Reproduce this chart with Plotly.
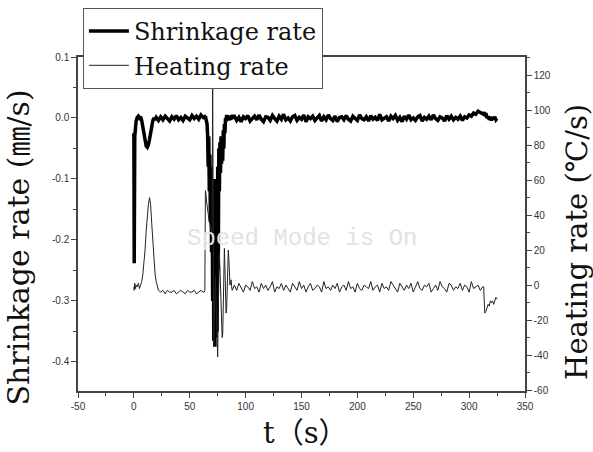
import plotly.graph_objects as go

# ---------------- data ----------------
# time stamps, s
t_start = [0, 0.3, 0.8, 1.5, 2, 3, 4, 5, 6, 7, 8, 9, 10, 11, 12, 13, 14, 15, 16, 17, 18, 19, 20]
t_hold = list(range(22, 63, 2))
t_event = [63, 63.5, 64, 64.5, 65, 65.5, 66, 66.5, 67, 67.5, 68, 68.5, 69, 69.5, 70, 70.5,
           71, 71.5, 72, 72.5, 73, 73.5, 74, 74.5, 75, 75.5, 76, 76.5, 77, 77.5, 78, 78.5,
           79, 79.5, 80, 80.5, 81, 81.5, 82, 82.5, 83, 83.5, 84, 84.5, 85, 85.5, 86, 86.5,
           87, 87.5, 88]
t_run = list(range(90, 313, 2))
t_end = [313, 313.5, 314, 315, 316, 317, 318, 319, 320, 321, 322, 323, 324, 325]

# shrinkage rate, mm/s
shrink_start = [-0.025, -0.238, -0.03, -0.012, -0.005, 0.001, 0.003, 0.0, 0.002, -0.004,
                -0.014, -0.028, -0.04, -0.046, -0.048, -0.044, -0.035, -0.022, -0.011,
                -0.004, 0.0, -0.003, 0.001]
shrink_hold = [-0.004, 0.002, -0.003, 0.003, -0.001, -0.005, 0.002, -0.002, 0.004, -0.003,
               0.001, -0.004, 0.003, 0.0, -0.003, 0.004, -0.001, 0.003, -0.002, 0.005, 0.001]
shrink_event = [0.002, -0.002, 0.003, -0.001, -0.004, -0.01, -0.03, -0.08, -0.03, -0.12,
                -0.06, -0.17, -0.08, -0.22, -0.12, -0.3, -0.1, -0.365, -0.15, -0.375,
                -0.12, -0.36, -0.1, -0.35, -0.08, -0.25, -0.05, -0.12, -0.04, -0.09,
                -0.03, -0.075, -0.04, -0.07, -0.02, -0.05, -0.01, -0.025, 0.0, -0.006,
                0.005, -0.003, 0.004, -0.002, 0.003, -0.004, 0.002, -0.003, 0.004, -0.002,
                0.003]
shrink_run = [0.003, -0.004, 0.001, -0.006, 0.002, -0.001, 0.004, -0.005, 0.0, 0.003,
              -0.003, 0.005, -0.002, -0.006, 0.002, 0.001, -0.004, 0.004, -0.001, -0.005,
              0.003, -0.002, 0.006, -0.003, 0.0, -0.005, 0.002, 0.004, -0.004, 0.001,
              -0.002, 0.005, -0.006, 0.002, -0.001, 0.003, -0.004, 0.0, 0.004, -0.005,
              0.002, -0.003, 0.005, -0.001, -0.004, 0.003, -0.006, 0.001, 0.002, -0.003,
              0.004, -0.002, -0.005, 0.003, 0.0, -0.004, 0.005, -0.001, -0.003, 0.002,
              -0.005, 0.004, -0.002, 0.001, -0.004, 0.006, -0.003, 0.0, 0.002, -0.005,
              0.003, -0.001, 0.004, -0.004, 0.001, -0.006, 0.003, -0.002, 0.005, -0.003,
              0.0, -0.004, 0.002, 0.004, -0.005, 0.001, -0.002, 0.003, -0.003, 0.005,
              -0.001, -0.004, 0.002, 0.0, -0.005, 0.004, -0.002, 0.003, -0.003, 0.001,
              -0.002, 0.003, -0.004, 0.002, 0.0, 0.005, 0.003, 0.008, 0.006, 0.011,
              0.009, 0.006]
shrink_end = [0.006, 0.01, 0.004, 0.008, 0.0, 0.003, -0.003, 0.002, -0.004, 0.001, -0.002,
              0.002, -0.003, -0.001]

# heating rate, degC/s
heat_start = [-1, -3, 1, -2, 0, -1, 1, -2, 0, 2, 6, 12, 20, 31, 40, 46, 50, 46, 35, 24, 13, 6, 2]
heat_hold = [-3, -4, -3, -5, -3, -4, -4, -3, -5, -4, -3, -4, -5, -3, -4, -4, -3, -5, -4, -3, -4]
heat_event = [-4, -3, 54, 52, 48, 45, 42, 40, 38, 36, 35, 33, 32, 30, 30, 114,
              40, -35, -20, -5, 5, -10, -25, -38, -41, -15, 5, 18, 10, -5, -18, -25,
              -30, -28, -5, 15, 21, 10, -5, -16, -14, 0, 12, 20, 15, 5, 0, 2,
              3, -1, -3]
heat_run = [0, -3, 1, -2, -4, 0, -1, -3, 2, -2, -1, -4, 1, -2, 0, -3, -1, 2, -4, -1,
            -2, 1, -3, 0, -2, -4, 1, -1, -3, 2, -2, 0, -4, -1, 1, -3, -2, 0, -1, -4,
            2, -2, -1, -3, 0, -2, 1, -4, -1, 0, -3, 2, -2, -1, -4, 1, -2, -3, 0, -1,
            -2, 2, -3, -1, 0, -4, 1, -2, -1, -3, 2, 0, -2, -4, 1, -1, -3, 0, -2, 1,
            -4, -1, 2, -2, -3, 0, -1, 1, -4, -2, 0, -3, 2, -1, -2, -4, 1, 0, -3, -1,
            -2, 1, -3, 0, -1, -4, 2, -2, -1, 0, -3, -1]
heat_end = [-1, -12, -16, -15, -13, -11, -12, -9, -10, -9, -11, -8, -7, -8]

time = t_start + t_hold + t_event + t_run + t_end
shrinkage = shrink_start + shrink_hold + shrink_event + shrink_run + shrink_end
heating = heat_start + heat_hold + heat_event + heat_run + heat_end

x_ticks = [-50, 0, 50, 100, 150, 200, 250, 300, 350]
x_labels = ["-50", "0", "50", "100", "150", "200", "250", "300", "350"]
y_ticks = [-0.4, -0.3, -0.2, -0.1, 0.0, 0.1]
y_labels = ["-0.4", "-0.3", "-0.2", "-0.1", "0.0", "0.1"]
y2_ticks = [-60, -40, -20, 0, 20, 40, 60, 80, 100, 120]
y2_labels = ["-60", "-40", "-20", "0", "20", "40", "60", "80", "100", "120"]

# ---------------- figure ----------------
serif = "DejaVu Serif, Noto Sans CJK SC, serif"
tickfont = dict(family="Liberation Sans, Arial, sans-serif", size=10, color="#333")
axcol = "#444"

fig = go.Figure()
fig.add_trace(go.Scatter(x=time, y=shrinkage, mode="lines", name="Shrinkage rate",
                         line=dict(color="black", width=3.5)))
fig.add_trace(go.Scatter(x=time, y=heating, mode="lines", name="Heating rate",
                         yaxis="y2", line=dict(color="#222", width=1)))

common = dict(showgrid=False, zeroline=False, showline=True, linecolor=axcol, linewidth=1.5,
              ticks="outside", ticklen=5, tickwidth=1, tickcolor=axcol, tickfont=tickfont,
              tickmode="array")

fig.update_layout(
    width=593, height=452, autosize=False,
    margin=dict(l=78, r=68, t=57, b=61, autoexpand=False),
    paper_bgcolor="white", plot_bgcolor="white",
    xaxis=dict(range=[-50, 350], tickvals=x_ticks, ticktext=x_labels, mirror=True,
               minor=dict(tickmode="linear", tick0=-25, dtick=50, ticks="outside", ticklen=3,
                          tickcolor=axcol), **common),
    yaxis=dict(range=[-0.4476, 0.1], tickvals=y_ticks, ticktext=y_labels,
               minor=dict(tickmode="linear", tick0=0.05, dtick=0.1, ticks="outside", ticklen=3,
                          tickcolor=axcol), **common),
    yaxis2=dict(range=[-60.5, 130.3], overlaying="y", side="right", anchor="x",
                tickvals=y2_ticks, ticktext=y2_labels,
                minor=dict(tickmode="linear", tick0=-50, dtick=20, ticks="outside", ticklen=3,
                           tickcolor=axcol), **common),
    legend=dict(x=0.011, y=1.1467, xanchor="left", yanchor="top", bgcolor="white",
                bordercolor="#555", borderwidth=1, font=dict(family=serif, size=24, color="#111"),
                itemwidth=40, tracegroupgap=0),
    showlegend=True,
)

fig.add_annotation(text="Shrinkage rate (㎜/s)", xref="paper", yref="paper", x=-0.134, y=0.43,
                   xanchor="center", yanchor="middle", textangle=-90, showarrow=False,
                   font=dict(family=serif, size=30, color="#111"))
fig.add_annotation(text="Heating rate (℃/s)", xref="paper", yref="paper", x=1.116, y=0.446,
                   xanchor="center", yanchor="middle", textangle=-90, showarrow=False,
                   font=dict(family=serif, size=29, color="#111"))
fig.add_annotation(text="t（s）", xref="paper", yref="paper", x=0.509, y=-0.1826,
                   xanchor="center", yanchor="bottom", showarrow=False,
                   font=dict(family=serif, size=29, color="#111"))
fig.add_annotation(text="Speed Mode is On", xref="paper", yref="paper", x=0.501, y=0.458,
                   xanchor="center", yanchor="middle", showarrow=False,
                   font=dict(family="Liberation Mono, monospace", size=24, color="#e2e2e2"))

fig.write_html("out.html", config={"displayModeBar": False},
               post_script="document.body.style.margin='0';")
